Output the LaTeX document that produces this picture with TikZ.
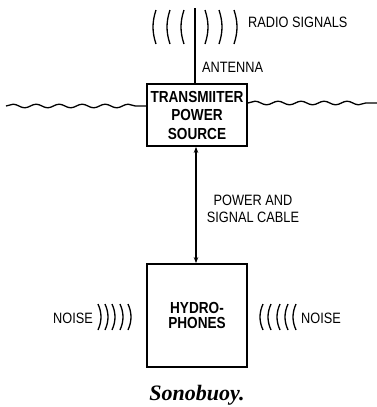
\documentclass[tikz,border=0pt]{standalone}
\usepackage{fontspec}
\usetikzlibrary{arrows.meta,positioning,decorations.pathmorphing}
\newfontfamily\diafont{Liberation Sans}[FakeStretch=0.85]
\newfontfamily\capfont{Liberation Serif}
\tikzset{
  unitbox/.style={draw, line width=1.8pt, minimum width=100pt, align=center,
    inner sep=0pt, font=\diafont\bfseries\fontsize{16}{18.5}\selectfont},
  lbl/.style={inner sep=0pt, font=\diafont\fontsize{15}{17}\selectfont},
  wire/.style={line width=1.9pt},
  cable/.style={{Stealth[length=6pt,width=4.5pt]}-{Stealth[length=6pt,width=4.5pt]}, line width=1.3pt},
  wavearc/.style={line width=1.3pt},
  water/.style={line width=1.3pt, decorate,
    decoration={snake, segment length=23pt, amplitude=1.8pt}}
}
\begin{document}
\begin{tikzpicture}[x=1pt,y=-1pt]
  \useasboundingbox (0,0) rectangle (377,407);
  % boxes
  \node[unitbox, minimum height=62pt] (tx) at (197,115) {TRANSMIITER\\POWER\\SOURCE};
  \node[unitbox, minimum height=103pt, font=\diafont\bfseries\fontsize{16}{15.5}\selectfont]
    (hyd) at (197,315.5) {HYDRO-\\PHONES};
  % antenna and radio waves
  \coordinate (atop) at (195,8);
  \draw[wire] (tx.north -| atop) -- (atop);
  \foreach \x in {153,167,181}
    \draw[wavearc] (\x+3,10) .. controls (\x-1,22) and (\x-1,32) .. (\x+3,44);
  \foreach \x in {208,222,237}
    \draw[wavearc] (\x-3,10) .. controls (\x+1,22) and (\x+1,32) .. (\x-3,44);
  \node[lbl, anchor=west] (radio) at (248,22) {RADIO SIGNALS};
  \node[lbl, anchor=west] (ant) at (202,67) {ANTENNA};
  % sea surface
  \coordinate (wl) at (6,106);
  \coordinate (wr) at (377,103);
  \draw[water] (wl) -- (tx.west |- wl);
  \draw[water] (tx.east |- wr) -- (wr);
  % cable
  \coordinate (cx) at (196,0);
  \draw[cable] (tx.south -| cx) -- (hyd.north -| cx);
  \node[lbl, align=center] (cablelbl) at (253,209) {POWER AND\\SIGNAL CABLE};
  % noise
  \node[lbl] (noisel) at (73,318) {NOISE};
  \node[lbl] (noiser) at (321,318) {NOISE};
  \foreach \x in {101,108,115,123,131}
    \draw[wavearc] (\x-3,304) .. controls (\x+1,313) and (\x+1,321) .. (\x-3,330);
  \foreach \x in {260,268,277,285,293}
    \draw[wavearc] (\x+3,304) .. controls (\x-1,313) and (\x-1,321) .. (\x+3,330);
  % caption
  \node[font=\capfont\bfseries\itshape\fontsize{22}{24}\selectfont] (cap) at (197,395) {Sonobuoy.};
\end{tikzpicture}
\end{document}
